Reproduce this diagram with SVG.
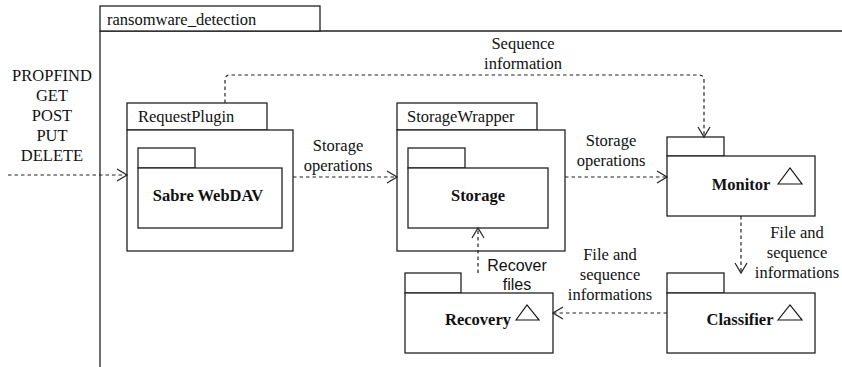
<svg xmlns="http://www.w3.org/2000/svg" width="842" height="367" viewBox="0 0 842 367">
<style>
.s{fill:#fff;stroke:#222;stroke-width:1.3}
.t{font-family:'Liberation Serif','Times New Roman','DejaVu Serif',serif;font-size:16.5px;fill:#111}
.b{font-family:'Liberation Serif','Times New Roman','DejaVu Serif',serif;font-size:16.5px;font-weight:bold;fill:#111}
.a{font-family:'Liberation Sans',Arial,sans-serif;font-size:16px;fill:#111}
.c{fill:none;stroke:#222;stroke-width:1.2;stroke-dasharray:3.5,3}
.tri{fill:#fff;stroke:#111;stroke-width:1.2}
</style>
<defs>
<marker id="v" markerWidth="14" markerHeight="14" refX="11" refY="7" orient="auto" markerUnits="userSpaceOnUse">
<path d="M1,1 L11,7 L1,13" fill="none" stroke="#222" stroke-width="1.2"/>
</marker>
</defs>
<rect width="842" height="367" fill="#fff"/>
<g id="frame">
<path d="M100,367 V31 H842" fill="none" stroke="#222" stroke-width="1.3"/>
<rect x="100" y="6" width="220" height="25" class="s"/>
<text x="107" y="25" class="t" font-family="Liberation Serif">ransomware_detection</text>
</g>
<g id="methods">
<text x="52" y="81" class="t" text-anchor="middle">PROPFIND</text>
<text x="52" y="101" class="t" text-anchor="middle">GET</text>
<text x="52" y="121" class="t" text-anchor="middle">POST</text>
<text x="52" y="141" class="t" text-anchor="middle">PUT</text>
<text x="52" y="161" class="t" text-anchor="middle">DELETE</text>
</g>
<g id="RequestPlugin">
<rect x="127" y="103" width="140" height="27" class="s"/>
<rect x="127" y="130" width="166" height="121" class="s"/>
<text x="138" y="122" class="t">RequestPlugin</text>
<g id="SabreWebDAV">
<rect x="138" y="148" width="57" height="20" class="s"/>
<rect x="138" y="168" width="144" height="60" class="s"/>
<text x="208" y="201" class="b" text-anchor="middle">Sabre WebDAV</text>
</g>
</g>
<g id="StorageWrapper">
<rect x="397" y="103" width="140" height="27" class="s"/>
<rect x="397" y="130" width="168" height="121" class="s"/>
<text x="407" y="122" class="t">StorageWrapper</text>
<g id="Storage">
<rect x="408" y="148" width="57" height="20" class="s"/>
<rect x="408" y="168" width="140" height="60" class="s"/>
<text x="478" y="201" class="b" text-anchor="middle">Storage</text>
</g>
</g>
<g id="Monitor">
<rect x="667" y="137" width="57" height="19" class="s"/>
<rect x="667" y="156" width="148" height="60" class="s"/>
<text x="741" y="190" class="b" text-anchor="middle">Monitor</text>
<path d="M778,184 L790,168 L802,184 Z" class="tri"/>
</g>
<g id="Classifier">
<rect x="667" y="273" width="57" height="20" class="s"/>
<rect x="667" y="293" width="148" height="60" class="s"/>
<text x="740" y="325" class="b" text-anchor="middle">Classifier</text>
<path d="M778,320 L790,305 L802,320 Z" class="tri"/>
</g>
<g id="Recovery">
<rect x="405" y="273" width="56" height="20" class="s"/>
<rect x="405" y="293" width="148" height="60" class="s"/>
<text x="478" y="325" class="b" text-anchor="middle">Recovery</text>
<path d="M516,320 L527,305 L539,320 Z" class="tri"/>
</g>
<g id="connectors">
<path d="M8,175 H127" class="c" marker-end="url(#v)"/>
<path d="M293,177 H397" class="c" marker-end="url(#v)"/>
<path d="M565,177 H667" class="c" marker-end="url(#v)"/>
<path d="M225,103 V80 Q225,75 230,75 H699 Q704,75 704,80 V137" class="c" marker-end="url(#v)"/>
<path d="M741,216 V273" class="c" marker-end="url(#v)"/>
<path d="M667,313 H553" class="c" marker-end="url(#v)"/>
<path d="M478,273 V228" class="c" marker-end="url(#v)"/>
</g>
<g id="labels">
<text x="338" y="151" class="t" text-anchor="middle">Storage</text>
<text x="338" y="171" class="t" text-anchor="middle">operations</text>
<text x="611" y="146" class="t" text-anchor="middle">Storage</text>
<text x="611" y="166" class="t" text-anchor="middle">operations</text>
<text x="523" y="49" class="t" text-anchor="middle">Sequence</text>
<text x="523" y="69" class="t" text-anchor="middle">information</text>
<text x="797" y="238" class="t" text-anchor="middle">File and</text>
<text x="797" y="258" class="t" text-anchor="middle">sequence</text>
<text x="797" y="278" class="t" text-anchor="middle">informations</text>
<text x="610" y="260" class="t" text-anchor="middle">File and</text>
<text x="610" y="280" class="t" text-anchor="middle">sequence</text>
<text x="610" y="300" class="t" text-anchor="middle">informations</text>
<text x="517" y="271" class="a" text-anchor="middle">Recover</text>
<text x="517" y="290" class="a" text-anchor="middle">files</text>
</g>
</svg>
